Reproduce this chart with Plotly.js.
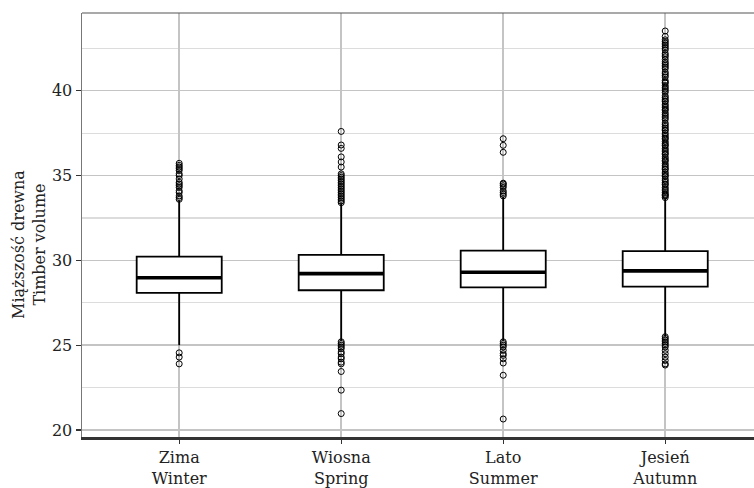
<!DOCTYPE html>
<html>
<head>
<meta charset="utf-8">
<script src="https://cdn.plot.ly/plotly-3.0.1.min.js"></script>
<style>html,body{margin:0;padding:0;overflow:hidden;background:#fff;}</style>
</head>
<body>
<div id="chart" style="width:754px;height:488px;"></div>
<script>
// Categories (tick labels)
const seasons = ["Zima<br>Winter", "Wiosna<br>Spring", "Lato<br>Summer", "Jesień<br>Autumn"];

// Box statistics per season
const q1Values     = [28.08, 28.24, 28.41, 28.45];
const medianValues = [28.98, 29.22, 29.30, 29.38];
const q3Values     = [30.22, 30.32, 30.57, 30.55];
const lowerWhisker = [25.00, 25.27, 25.27, 25.50];
const upperWhisker = [33.50, 33.36, 33.75, 33.66];

// Outliers per season
const outliersZima = [33.6, 33.7, 33.8, 34.0, 34.1, 34.3, 34.4, 34.5, 34.6, 34.8, 35.0, 35.1, 35.3, 35.4, 35.5, 35.6, 35.72,
  24.55, 24.3, 23.9];
const outliersWiosna = [33.4, 33.5, 33.6, 33.7, 33.8, 33.9, 34.0, 34.1, 34.2, 34.3, 34.4, 34.5, 34.6, 34.7, 34.8, 34.9, 35.0, 35.1,
  35.5, 35.8, 36.1, 36.6, 36.8, 37.6,
  25.2, 25.1, 25.0, 24.9, 24.8, 24.6, 24.5, 24.3, 24.2, 24.0, 23.9, 23.45, 22.35, 20.97];
const outliersLato = [33.8, 33.9, 34.0, 34.1, 34.3, 34.4, 34.5, 34.55, 36.37, 36.78, 37.17,
  25.2, 25.1, 25.0, 24.9, 24.7, 24.5, 24.4, 24.2, 23.95, 23.23, 20.65];
const outliersJesien = [33.7, 33.8, 33.85, 33.9, 34.0, 34.1, 34.2, 34.3, 34.45, 34.5, 34.6, 34.7, 34.8, 34.95, 35.0, 35.1, 35.2,
  35.35, 35.4, 35.5, 35.6, 35.7, 35.85, 35.9, 36.0, 36.1, 36.25, 36.3, 36.4, 36.5, 36.6, 36.75, 36.8, 36.9, 37.0,
  37.15, 37.2, 37.3, 37.4, 37.5, 37.65, 37.7, 37.8, 37.9, 38.0, 38.1, 38.3, 38.4, 38.5, 38.6, 38.7, 38.85, 38.9,
  39.0, 39.1, 39.2, 39.35, 39.4, 39.5, 39.6, 39.7, 39.9, 40.0, 40.1, 40.2, 40.3, 40.45, 40.5, 40.6, 40.8, 40.9,
  41.0, 41.1, 41.3, 41.4, 41.5, 41.6, 41.7, 41.85, 42.0, 42.1, 42.2, 42.4, 42.5, 42.6, 42.7, 42.8, 42.9, 43.0,
  43.2, 43.52,
  25.5, 25.4, 25.3, 25.2, 25.1, 25.0, 24.9, 24.7, 24.5, 24.3, 24.1, 23.9, 23.83];

const outlierGroups = [outliersZima, outliersWiosna, outliersLato, outliersJesien];

const FONT = "DejaVu Serif, Liberation Serif, serif";
const FSIZE = 16;

const outX = [], outY = [];
outlierGroups.forEach((g, i) => g.forEach(v => { outX.push(seasons[i]); outY.push(v); }));

const boxTrace = {
  type: "box",
  x: seasons,
  q1: q1Values,
  median: medianValues,
  q3: q3Values,
  lowerfence: lowerWhisker,
  upperfence: upperWhisker,
  boxpoints: false,
  fillcolor: "#ffffff",
  line: {color: "#000000", width: 1.8},
  whiskerwidth: 0,
  hoverinfo: "skip",
  showlegend: false
};

const medianTrace = {
  type: "box",
  x: seasons,
  q1: medianValues,
  median: medianValues,
  q3: medianValues,
  lowerfence: medianValues,
  upperfence: medianValues,
  boxpoints: false,
  fillcolor: "rgba(0,0,0,0)",
  line: {color: "#000000", width: 3.6},
  whiskerwidth: 0,
  hoverinfo: "skip",
  showlegend: false
};

const outlierTrace = {
  type: "scatter",
  mode: "markers",
  x: outX,
  y: outY,
  marker: {symbol: "circle-open", size: 6, color: "#000000", line: {width: 1, color: "#000000"}},
  hoverinfo: "skip",
  showlegend: false
};

const layout = {
  width: 754,
  height: 488,
  margin: {l: 82, r: 0, t: 13, b: 51},
  paper_bgcolor: "#ffffff",
  plot_bgcolor: "#ffffff",
  boxmode: "overlay",
  boxgap: 0.25,
  font: {family: FONT, size: FSIZE, color: "#222222"},
  xaxis: {
    type: "category",
    range: [-0.6, 3.548],
    showgrid: true,
    gridcolor: "#c4c4c4",
    gridwidth: 1.5,
    zeroline: false,
    showline: true,
    linecolor: "#333333",
    linewidth: 2.5,
    ticks: "outside",
    ticklen: 4,
    tickwidth: 1.2,
    tickcolor: "#333333",
    tickfont: {family: FONT, size: FSIZE, color: "#222222"}
  },
  yaxis: {
    range: [19.59, 44.58],
    tick0: 20,
    dtick: 5,
    showgrid: true,
    gridcolor: "#c4c4c4",
    gridwidth: 1.5,
    minor: {tick0: 20, dtick: 2.5, showgrid: true, gridcolor: "#dcdcdc", gridwidth: 1.2, ticks: ""},
    zeroline: false,
    showline: true,
    linecolor: "#777777",
    linewidth: 1.5,
    ticks: "outside",
    ticklen: 5,
    tickwidth: 1.2,
    tickcolor: "#333333",
    tickfont: {family: FONT, size: FSIZE, color: "#222222"}
  },
  shapes: [
    {type: "line", xref: "paper", yref: "paper", x0: 0, x1: 1, y0: 1, y1: 1,
     line: {color: "#555555", width: 1.2}}
  ],
  annotations: [
    {text: "Miąższość drewna<br>Timber volume", xref: "paper", yref: "paper",
     x: -0.079, y: 0.455, xanchor: "center", yanchor: "middle", textangle: -90,
     showarrow: false, font: {family: FONT, size: FSIZE, color: "#222222"}}
  ]
};

Plotly.newPlot("chart", [boxTrace, medianTrace, outlierTrace], layout, {displayModeBar: false, staticPlot: true});
</script>
</body>
</html>
